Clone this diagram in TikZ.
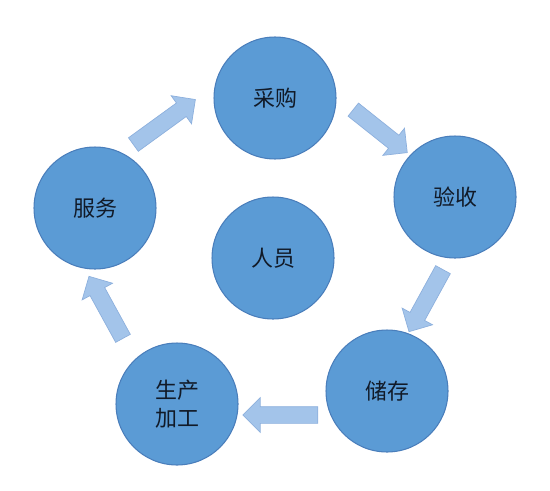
\documentclass[tikz,border=0pt]{standalone}
\usepackage{fontspec}
\newfontfamily\cjk{Noto Sans CJK SC}
\usetikzlibrary{calc,shapes.arrows}
\definecolor{ballblue}{HTML}{5B9BD5}
\definecolor{balledge}{HTML}{4A7EBB}
\definecolor{arrowblue}{HTML}{A3C4EA}
\definecolor{arrowedge}{HTML}{8DB0DD}
\definecolor{inktext}{HTML}{111A28}
\tikzset{
	ball/.style={circle, fill=ballblue, draw=balledge, line width=0.6pt, minimum size=2.44cm, inner sep=0pt, font=\cjk\fontsize{12.5}{16}\selectfont, text=inktext, align=center},
	fatarrow/.style={single arrow, fill=arrowblue, draw=arrowedge, line width=0.4pt, inner xsep=0pt, inner ysep=0.16cm, single arrow head extend=0.18cm, single arrow head indent=0pt, outer sep=0pt}
}
\def\blockarrow(#1)(#2){\path let \p1=($(#2)-(#1)$), \n1={atan2(\y1,\x1)}, \n2={veclen(\x1,\y1)} in node[fatarrow, minimum height=\n2, rotate=\n1] at ($(#1)!0.5!(#2)$) {};}

\begin{document}
\begin{tikzpicture}[x=0.02cm, y=-0.02cm]
			%%%%% START %%%%%
			
			\useasboundingbox (0, 0) rectangle (550, 490);
			
			\node[ball] (caigou) at (275, 98) {采购};
			\node[ball] (yanshou) at (455, 197) {验收};
			\node[ball] (chucun) at (387, 391) {储存};
			\node[ball] (shengchan) at (177, 404) {生产\\加工};
			\node[ball] (fuwu) at (95, 208) {服务};
			\node[ball] (renyuan) at (273, 258) {人员};
			
			\coordinate (a1) at (130, 147);
			\coordinate (b1) at (192, 102);
			\coordinate (a2) at (350, 107);
			\coordinate (b2) at (404, 150);
			\coordinate (a3) at (445, 266);
			\coordinate (b3) at (411, 328);
			\coordinate (a4) at (322, 415);
			\coordinate (b4) at (247, 415);
			\coordinate (a5) at (125, 342);
			\coordinate (b5) at (91, 280);
			
			\blockarrow(a1)(b1);
			\blockarrow(a2)(b2);
			\blockarrow(a3)(b3);
			\blockarrow(a4)(b4);
			\blockarrow(a5)(b5);
			
			%%%%% END %%%%%
\end{tikzpicture}
\end{document}
